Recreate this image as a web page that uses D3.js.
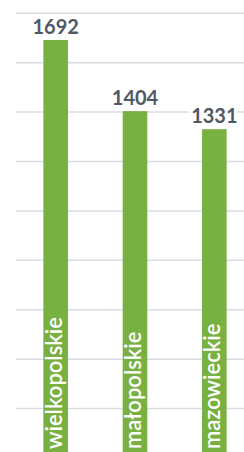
<!DOCTYPE html>
<html lang="pl">
<head>
  <meta charset="UTF-8">
  <title>Województwa</title>
  <script src="https://d3js.org/d3.v7.min.js"></script>
  <style>
    body { margin: 0; background: #fff; }
    svg { display: block; }
    .grid line { stroke: #d8dde3; stroke-width: 1.5px; }
    .value { font-family: Lato, sans-serif; font-weight: bold; font-size: 20px; fill: #4f5963; }
    .cat { font-family: Lato, sans-serif; font-weight: 600; font-size: 22px; fill: #fff; }
  </style>
</head>
<body>
  <svg width="244" height="452"></svg>
  <script>
    const regions = ["wielkopolskie", "małopolskie", "mazowieckie"];
    const counts = [1692, 1404, 1331];
    const gridTicks = [200, 400, 600, 800, 1000, 1200, 1400, 1600, 1800];

    const svg = d3.select("svg");

    const x = d3.scaleBand()
        .domain(regions)
        .range([16, 254])
        .paddingInner(0.69)
        .paddingOuter(0.345);

    const y = d3.scaleLinear()
        .domain([0, 1800])
        .range([458, 13.3]);

    // gridlines
    svg.append("g")
        .attr("class", "grid")
        .selectAll("line")
        .data(gridTicks)
        .enter().append("line")
        .attr("x1", 16)
        .attr("x2", 244)
        .attr("y1", d => y(d))
        .attr("y2", d => y(d));

    const data = regions.map((r, i) => ({ name: r, value: counts[i] }));

    svg.append("g")
        .selectAll("rect")
        .data(data)
        .enter().append("rect")
        .attr("x", d => x(d.name))
        .attr("width", x.bandwidth())
        .attr("y", d => y(d.value))
        .attr("height", d => y(0) - y(d.value))
        .attr("fill", "#79b042");

    // value labels with a white halo that cuts the gridlines
    svg.append("g")
        .selectAll("text")
        .data(data)
        .enter().append("text")
        .attr("class", "value")
        .attr("x", d => x(d.name) + x.bandwidth() / 2)
        .attr("y", d => y(d.value) - 6)
        .attr("text-anchor", "middle")
        .attr("stroke", "#fff")
        .attr("stroke-width", 6)
        .attr("paint-order", "stroke")
        .text(d => d.value);

    // category names inside the bars
    svg.append("g")
        .selectAll("text")
        .data(data)
        .enter().append("text")
        .attr("class", "cat")
        .attr("transform", d => `translate(${x(d.name) + x.bandwidth() / 2},449) rotate(-90)`)
        .attr("y", 6)
        .text(d => d.name);
  </script>
</body>
</html>
